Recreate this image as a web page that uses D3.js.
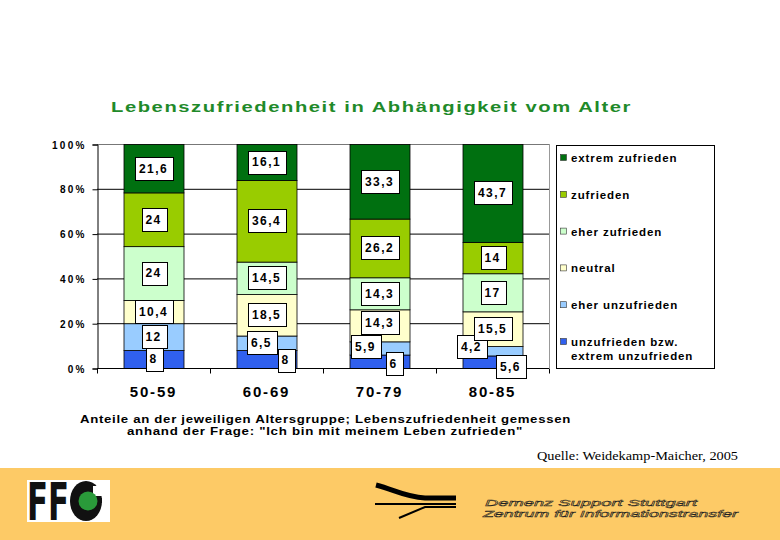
<!DOCTYPE html>
<html><head><meta charset="utf-8">
<script src="https://cdn.jsdelivr.net/npm/d3@7/dist/d3.min.js"></script>
<style>
body{margin:0;background:#fff;}
svg{display:block;font-family:Arial,"Liberation Sans",sans-serif;}
</style></head>
<body><svg id="c" width="780" height="540"></svg>
<script>
const categories = ["50-59","60-69","70-79","80-85"];
const seriesNames = ["unzufrieden bzw. extrem unzufrieden","eher unzufrieden","neutral","eher zufrieden","zufrieden","extrem zufrieden"];
const unzufrieden     = [8, 8, 6, 5.6];
const eherUnzufrieden = [12, 6.5, 5.9, 4.2];
const neutral         = [10.4, 18.5, 14.3, 15.5];
const eherZufrieden   = [24, 14.5, 14.3, 17];
const zufrieden       = [24, 36.4, 26.2, 14];
const extremZufrieden = [21.6, 16.1, 33.3, 43.7];
const yTicks = [0, 20, 40, 60, 80, 100];
const colors = ["#3060ee","#99ccff","#ffffcc","#ccffcc","#99cc00","#007010"];
// label nudges (px) for overlapping labels, keyed "category|seriesIndex"
const labelNudge = {"60-69|0":[19,1],"60-69|1":[-5,0],"70-79|0":[14,2],"70-79|1":[-14,-1],"70-79|2":[0,-3],"80-85|0":[18,5],"80-85|1":[-21,-4]};

const seriesValues = [unzufrieden, eherUnzufrieden, neutral, eherZufrieden, zufrieden, extremZufrieden];
const table = categories.map((c,i)=>{const o={cat:c}; seriesNames.forEach((s,k)=>o[s]=seriesValues[k][i]); return o;});
const stack = d3.stack().keys(seriesNames)(table);

const svg = d3.select("#c");
const L=97,R=549,T=144,B=368;
const x = d3.scaleBand().domain(categories).range([L,R]).paddingInner(0.469).paddingOuter(0.2345);
const y = d3.scaleLinear().domain([0,100]).range([B,T]);

// footer band
svg.append("rect").attr("x",0).attr("y",468).attr("width",780).attr("height",72).attr("fill","#fdca66");

// title
svg.append("text").attr("x",111).attr("y",112).attr("fill","#1f8a2a").attr("font-weight","bold")
  .attr("font-size",15.5).attr("textLength",521).attr("lengthAdjust","spacingAndGlyphs").attr("letter-spacing",1.2)
  .text("Lebenszufriedenheit in Abhängigkeit vom Alter");

// gridlines
svg.append("g").selectAll("line").data(yTicks.filter(t=>t>0)).join("line")
  .attr("x1",L).attr("x2",R).attr("y1",d=>y(d)+0.5).attr("y2",d=>y(d)+0.5)
  .attr("stroke",d=>d===100?"#777":"#000").attr("stroke-width",1);
// right border
svg.append("line").attr("x1",R+0.5).attr("x2",R+0.5).attr("y1",T).attr("y2",B).attr("stroke","#999");

// bars
const gBars = svg.append("g");
stack.forEach((s,k)=>{
  gBars.selectAll(null).data(s).join("rect")
    .attr("x",d=>x(d.data.cat)+0.5).attr("width",x.bandwidth())
    .attr("y",d=>y(d[1])+0.5).attr("height",d=>y(d[0])-y(d[1]))
    .attr("fill",colors[k]).attr("stroke","#000").attr("stroke-width",0.8);
});

// y axis
const yAxis = d3.axisLeft(y).tickValues(yTicks).tickFormat(d=>d+"%").tickSize(5).tickPadding(6);
const gy = svg.append("g").attr("transform",`translate(${L+0.5},0.5)`).call(yAxis);
gy.select(".domain").attr("stroke","#000");
gy.selectAll(".tick line").attr("stroke","#000");
gy.selectAll(".tick text").attr("font-size",10).attr("font-weight","bold").attr("letter-spacing",2.2).attr("fill","#000").attr("dy","0.35em");

// x axis
const gx = svg.append("g").attr("transform",`translate(0,${B+0.5})`);
gx.append("line").attr("x1",L).attr("x2",R).attr("stroke","#000");
const tickXs = d3.range(categories.length+1).map(i=>L + i*(R-L)/categories.length);
gx.selectAll(".t").data(tickXs).join("line").attr("x1",d=>Math.round(d)+0.5).attr("x2",d=>Math.round(d)+0.5).attr("y1",0).attr("y2",5).attr("stroke","#000");
gx.selectAll(".lab").data(categories).join("text")
  .attr("x",d=>x(d)+x.bandwidth()/2).attr("y",28).attr("text-anchor","middle")
  .attr("font-size",15).attr("font-weight","bold").attr("letter-spacing",1.8).text(d=>d);

// value labels
const gLab = svg.append("g");
stack.forEach((s,k)=>{
  s.forEach(d=>{
    const nud = labelNudge[d.data.cat+"|"+k]||[0,0];
    const cx = x(d.data.cat)+x.bandwidth()/2+nud[0];
    const cy = y((d[0]+d[1])/2)+nud[1];
    const g = gLab.append("g");
    const rect = g.append("rect");
    const t = g.append("text").attr("x",cx).attr("y",cy).attr("dy","0.36em").attr("text-anchor","middle")
      .attr("font-size",12).attr("font-weight","bold").attr("letter-spacing",1.4)
      .text(String(d.data[seriesNames[k]]).replace(".",","));
    const bb = t.node().getBBox();
    const w = bb.width+9, h=23;
    rect.attr("x",Math.round(cx-w/2+0.7)+0.5).attr("y",Math.round(cy-h/2)+0.5).attr("width",Math.round(w)).attr("height",h)
      .attr("fill","#fff").attr("stroke","#000").attr("stroke-width",1);
  });
});

// legend
const lg = svg.append("g");
lg.append("rect").attr("x",556.5).attr("y",145.5).attr("width",158).attr("height",223).attr("fill","#fff").attr("stroke","#000");
const legendItems = seriesNames.slice().reverse();
const legendColors = colors.slice().reverse();
const legendY = d3.scalePoint().domain(legendItems).range([162,346]);
legendItems.forEach((n,i)=>{
  const yy = legendY(n);
  lg.append("rect").attr("x",560.5).attr("y",yy-7.5).attr("width",6).attr("height",6).attr("fill",legendColors[i]).attr("stroke","#333").attr("stroke-width",0.6);
  const parts = n==="unzufrieden bzw. extrem unzufrieden" ? ["unzufrieden bzw.","extrem unzufrieden"] : [n];
  parts.forEach((p,j)=>{
    lg.append("text").attr("x",571).attr("y",yy+j*13.5).attr("font-size",11.5).attr("font-weight","bold").attr("letter-spacing",0.9).text(p);
  });
});

// subtitle
svg.append("text").attr("x",80).attr("y",423).attr("font-size",11.5).attr("font-weight","bold").attr("letter-spacing",0.6).attr("textLength",491).attr("lengthAdjust","spacingAndGlyphs")
  .text("Anteile an der jeweiligen Altersgruppe; Lebenszufriedenheit gemessen");
svg.append("text").attr("x",127).attr("y",435).attr("font-size",11.5).attr("font-weight","bold").attr("letter-spacing",0.6).attr("textLength",396).attr("lengthAdjust","spacingAndGlyphs")
  .text("anhand der Frage: \"Ich bin mit meinem Leben zufrieden\"");

// source
svg.append("text").attr("x",537).attr("y",460).attr("font-family","'Liberation Serif','Times New Roman',serif").attr("font-size",12.5).attr("textLength",201).attr("lengthAdjust","spacingAndGlyphs")
  .text("Quelle: Weidekamp-Maicher, 2005");

// FFG logo
const ffg = svg.append("g");
ffg.append("rect").attr("x",27).attr("y",480).attr("width",83).attr("height",42).attr("fill","#fff");
ffg.append("text").attr("x",27).attr("y",520).attr("font-size",52).attr("font-weight","900").attr("font-family","'Liberation Sans Narrow','DejaVu Sans Condensed',Arial,sans-serif")
  .attr("textLength",42).attr("lengthAdjust","spacingAndGlyphs").attr("fill","#111").text("FF");
ffg.append("ellipse").attr("cx",86).attr("cy",501).attr("rx",16).attr("ry",20).attr("fill","#111");
ffg.append("rect").attr("x",93).attr("y",486).attr("width",10).attr("height",10).attr("fill","#fff");
ffg.append("rect").attr("x",92).attr("y",498).attr("width",10).attr("height",5).attr("fill","#111");
ffg.append("circle").attr("cx",88).attr("cy",501).attr("r",9.5).attr("fill","#2a9a3a");

// DeSS logo
const ds = svg.append("g").attr("fill","none").attr("stroke","#000");
ds.append("path").attr("d","M376,485 C395,490 405,497 425,498 L456,498").attr("stroke-width",5);
ds.append("line").attr("x1",375).attr("x2",456).attr("y1",504).attr("y2",504).attr("stroke-width",2);
ds.append("path").attr("d","M456,507 L425,507 L399,518").attr("stroke-width",2);
svg.append("text").attr("x",485).attr("y",506).attr("font-size",9.5).attr("font-style","italic").attr("fill","none").attr("stroke","#222").attr("stroke-width",0.45)
  .attr("textLength",212).attr("lengthAdjust","spacingAndGlyphs").text("Demenz Support Stuttgart");
svg.append("text").attr("x",483).attr("y",517).attr("font-size",9.5).attr("font-style","italic").attr("fill","none").attr("stroke","#222").attr("stroke-width",0.45)
  .attr("textLength",255).attr("lengthAdjust","spacingAndGlyphs").text("Zentrum für Informationstransfer");
</script></body></html>
